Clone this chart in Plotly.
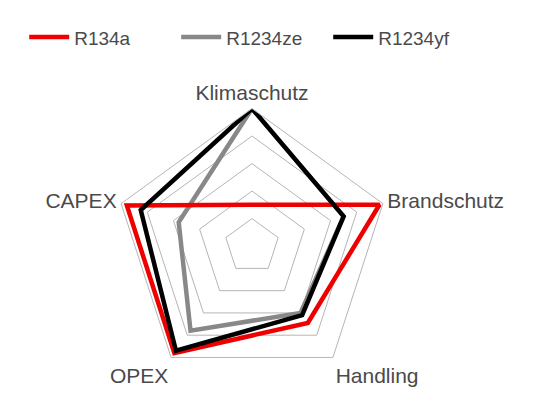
import plotly.graph_objects as go

categories = ["Klimaschutz", "Brandschutz", "Handling", "OPEX", "CAPEX"]

r134a = [1.5, 4.87, 3.45, 4.8, 4.78]
r1234ze = [5.0, 3.5, 3.0, 3.8, 2.8]
r1234yf = [5.0, 3.5, 3.1, 4.7, 4.25]

names = ["R134a", "R1234ze", "R1234yf"]
colors = ["#ee0000", "#888888", "#000000"]

# close the polygons
theta = categories + categories[:1]

fig = go.Figure()
# draw order: grey under red, black on top
for vals, name, col, rank in [(r1234ze, names[1], colors[1], 2),
                              (r134a, names[0], colors[0], 1),
                              (r1234yf, names[2], colors[2], 3)]:
    fig.add_trace(go.Scatterpolar(r=vals + vals[:1],
                                  theta=theta,
                                  mode="lines",
                                  name=name,
                                  legendrank=rank,
                                  line=dict(color=col, width=4.5)))

fig.update_layout(
    width=540, height=410,
    margin=dict(l=0, r=0, t=0, b=0),
    paper_bgcolor="white",
    font=dict(family="Liberation Sans, Arial, sans-serif", color="#4a4a4a"),
    showlegend=True,
    legend=dict(orientation="h", x=0.03, y=0.975, xanchor="left", yanchor="top",
                font=dict(size=19), itemwidth=40, entrywidth=97, entrywidthmode="pixels"),
    polar=dict(
        domain=dict(x=[0.197, 0.7067], y=[0.0835, 0.7549]),
        bgcolor="white",
        gridshape="linear",
        radialaxis=dict(range=[0, 5], dtick=1, showticklabels=False, ticks="",
                        showline=False, gridcolor="#b5b5b5", gridwidth=1),
        angularaxis=dict(rotation=90, direction="clockwise", showgrid=False,
                         showline=True, linecolor="#b5b5b5", linewidth=1, ticks="",
                         tickfont=dict(size=21, color="#4a4a4a")),
    ),
)

fig.write_html("out.html")
